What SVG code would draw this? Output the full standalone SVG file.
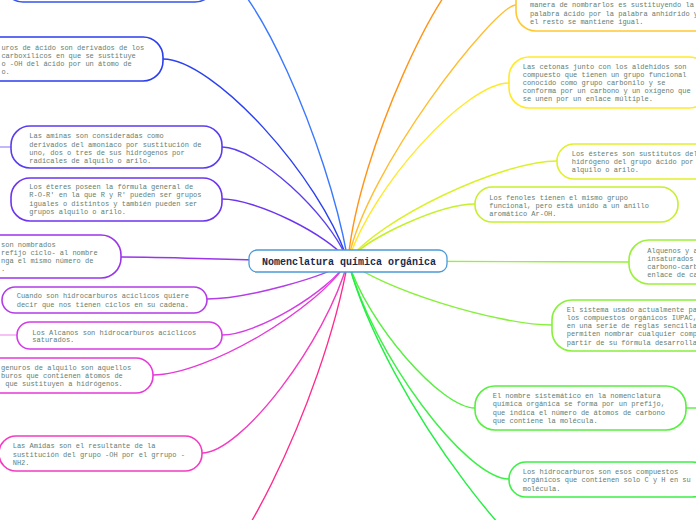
<svg xmlns="http://www.w3.org/2000/svg" width="696" height="520" viewBox="0 0 696 520">
<style>
.n rect{fill:#fff;stroke-width:1.6}
.c path{fill:none;stroke-width:1.4}
.t{font-family:"Liberation Mono","DejaVu Sans Mono",monospace;font-size:7px;fill:#647e70}
.title{font-family:"Liberation Mono","DejaVu Sans Mono",monospace;font-size:10px;font-weight:bold;fill:#1b2a4a}
</style>
<rect width="696" height="520" fill="#fff"/>
<g id="connectors" class="c">
<path d="M215,-30 C250,-30 328,143 348,261" stroke="#3a78ff"/>
<path d="M163,59 C213,59 320,176 348,261" stroke="#2b40f0"/>
<path d="M222,147 C256,147 329,213 348,261" stroke="#5a3ff0"/>
<path d="M0,147 L11,147" stroke="#a898f8"/>
<path d="M222,199 C256,199 329,235 348,261" stroke="#6c35f0"/>
<path d="M121,257 C190,257 220,261 348,261" stroke="#9b35ea"/>
<path d="M207,299 C245,299 327,277 348,261" stroke="#b33de8"/>
<path d="M222,335 C256,335 329,292 348,261" stroke="#d63ce6"/>
<path d="M0,335 L17,335" stroke="#f0a8f0"/>
<path d="M153,375 C206,375 319,309 348,261" stroke="#e63ad8"/>
<path d="M202,453 C241,453 326,342 348,261" stroke="#f23cc2"/>
<path d="M180,600 C225,600 323,403 348,261" stroke="#ff2a8c"/>
<path d="M470,-30 C445,-30 358,150 348,261" stroke="#ff9418"/>
<path d="M516,5 C495,5 365,170 348,261" stroke="#ffbe30"/>
<path d="M509,83 C466,83 372,186 348,261" stroke="#ffe82a"/>
<path d="M557,161 C501,161 379,219 348,261" stroke="#dcf02a"/>
<path d="M475,204 C441,204 367,237 348,261" stroke="#c4f02c"/>
<path d="M348,261 C480,261 540,262 629,262" stroke="#98f03a"/>
<path d="M552,325 C497,325 379,288 348,261" stroke="#86f03a"/>
<path d="M475,408 C441,408 367,323 348,261" stroke="#56f03e"/>
<path d="M686,408 L696,408" stroke="#56f03e"/>
<path d="M509,479 C466,479 372,353 348,261" stroke="#3ef046"/>
<path d="M600,600 C540,600 385,400 348,261" stroke="#22f040"/>
</g>
<g id="node-top-left" class="n"><rect x="3" y="-62" width="212" height="64" rx="20" stroke="#3355ee"/></g>
<g id="node-haluros" class="n"><rect x="-43" y="37" width="206" height="44" rx="20" stroke="#2b3ef0"/>
<text class="t" x="1.4" y="50">uros de ácido son derivados de los</text>
<text class="t" x="1.4" y="58">carboxílicos en que se sustituye</text>
<text class="t" x="1.4" y="65.5">o -OH del ácido por un átomo de</text>
<text class="t" x="1.4" y="73.5">o.</text></g>
<g id="node-aminas" class="n"><rect x="11" y="126" width="211" height="42" rx="19" stroke="#5b3df0"/>
<text class="t" x="29.3" y="138.3">Las aminas son consideradas como</text>
<text class="t" x="29.3" y="146.5">derivados del amoniaco por sustitución de</text>
<text class="t" x="29.3" y="154.5">uno, dos o tres de sus hidrógenos por</text>
<text class="t" x="29.3" y="162.8">radicales de alquilo o arilo.</text></g>
<g id="node-eteres" class="n"><rect x="11" y="178" width="211" height="43" rx="19" stroke="#6c35f0"/>
<text class="t" x="29.3" y="189">Los éteres poseen la fórmula general de</text>
<text class="t" x="29.3" y="197.2">R-O-R' en la que R y R' pueden ser grupos</text>
<text class="t" x="29.3" y="205.5">iguales o distintos y también pueden ser</text>
<text class="t" x="29.3" y="213.8">grupos alquilo o arilo.</text></g>
<g id="node-ciclo" class="n"><rect x="-85" y="235" width="206" height="43" rx="20" stroke="#9b35ea"/>
<text class="t" x="1" y="247.3">son nombrados</text>
<text class="t" x="1" y="255.3">refijo ciclo- al nombre</text>
<text class="t" x="1" y="263">nga el mismo número de</text>
<text class="t" x="1" y="271">.</text></g>
<g id="node-aciclicos" class="n"><rect x="2" y="287" width="205" height="26" rx="13" stroke="#b33de8"/>
<text class="t" x="16.7" y="298.3">Cuando son hidrocarburos acíclicos quiere</text>
<text class="t" x="16.7" y="306.6">decir que nos tienen ciclos en su cadena.</text></g>
<g id="node-alcanos" class="n"><rect x="17" y="322" width="205" height="27" rx="13" stroke="#d63ce6"/>
<text class="t" x="32.3" y="334.6">Los Alcanos son hidrocarburos acíclicos</text>
<text class="t" x="32.3" y="342.3">saturados.</text></g>
<g id="node-halo-alquilo" class="n"><rect x="-48" y="358" width="201" height="35" rx="17" stroke="#e63ad8"/>
<text class="t" x="1" y="370">genuros de alquilo son aquellos</text>
<text class="t" x="1" y="378">buros que contienen átomos de</text>
<text class="t" x="5.2" y="385.6">que sustituyen a hidrógenos.</text></g>
<g id="node-amidas" class="n"><rect x="-1" y="436" width="203" height="35" rx="17" stroke="#f23cc2"/>
<text class="t" x="12.7" y="448">Las Amidas son el resultante de la</text>
<text class="t" x="12.7" y="456.5">sustitución del grupo -OH por el grrupo -</text>
<text class="t" x="12.7" y="465">NH2.</text></g>
<g id="node-anhidridos" class="n"><rect x="516" y="-21" width="200" height="52" rx="20" stroke="#ffc832"/>
<text class="t" x="530" y="7.3">manera de nombrarlos es sustituyendo la</text>
<text class="t" x="530" y="15.6">palabra ácido por la palabra anhídrido y</text>
<text class="t" x="530" y="24">el resto se mantiene igual.</text></g>
<g id="node-cetonas" class="n"><rect x="509" y="57" width="200" height="51" rx="20" stroke="#ffea2a"/>
<text class="t" x="522.7" y="69">Las cetonas junto con los aldehídos son</text>
<text class="t" x="522.7" y="77.3">compuesto que tienen un grupo funcional</text>
<text class="t" x="522.7" y="85">conocido como grupo carbonilo y se</text>
<text class="t" x="522.7" y="93">conforma por un carbono y un oxígeno que</text>
<text class="t" x="522.7" y="101.3">se unen por un enlace múltiple.</text></g>
<g id="node-esteres" class="n"><rect x="557" y="144" width="160" height="35" rx="17" stroke="#e2f02a"/>
<text class="t" x="571.7" y="155.6">Los ésteres son sustitutos del</text>
<text class="t" x="571.7" y="164">hidrógeno del grupo ácido por</text>
<text class="t" x="571.7" y="172.3">alquilo o arilo.</text></g>
<g id="node-fenoles" class="n"><rect x="475" y="187" width="203" height="35" rx="17" stroke="#c6f02c"/>
<text class="t" x="489.3" y="199.6">Los fenoles tienen el mismo grupo</text>
<text class="t" x="489.3" y="207.6">funcional, pero está unido a un anillo</text>
<text class="t" x="489.3" y="216">aromático Ar-OH.</text></g>
<g id="node-alquenos" class="n"><rect x="629" y="240" width="120" height="44" rx="20" stroke="#9cf03a"/>
<text class="t" x="647.3" y="253.3">Alquenos y a</text>
<text class="t" x="647.3" y="261.2">insaturados</text>
<text class="t" x="647.3" y="269.2">carbono-carb</text>
<text class="t" x="647.3" y="277.4">enlace de ca</text></g>
<g id="node-iupac" class="n"><rect x="552" y="300" width="200" height="51" rx="20" stroke="#86f03a"/>
<text class="t" x="566.7" y="312.3">El sistema usado actualmente pa</text>
<text class="t" x="566.7" y="320.3">los compuestos orgánicos IUPAC,</text>
<text class="t" x="566.7" y="328.2">en una serie de reglas sencilla</text>
<text class="t" x="566.7" y="336.4">permiten nombrar cualquier comp</text>
<text class="t" x="566.7" y="344.6">partir de su fórmula desarrolla</text></g>
<g id="node-nombre" class="n"><rect x="475" y="386" width="211" height="44" rx="20" stroke="#56f03e"/>
<text class="t" x="492.7" y="398.3">El nombre sistemático en la nomenclatura</text>
<text class="t" x="492.7" y="406.4">química orgánica se forma por un prefijo,</text>
<text class="t" x="492.7" y="414.6">que indica el número de átomos de carbono</text>
<text class="t" x="492.7" y="423">que contiene la molécula.</text></g>
<g id="node-hidrocarburos" class="n"><rect x="509" y="462" width="200" height="35" rx="17" stroke="#3ef046"/>
<text class="t" x="522.7" y="474">Los hidrocarburos son esos compuestos</text>
<text class="t" x="522.7" y="482.3">orgánicos que contienen solo C y H en su</text>
<text class="t" x="522.7" y="490.6">molécula.</text></g>
<g id="node-center" class="n"><rect x="249" y="250" width="198" height="22" rx="8" stroke="#4a9ad8" style="stroke-width:1.3"/>
<text class="title" x="349" y="264.5" text-anchor="middle">Nomenclatura química orgánica</text></g>
</svg>
